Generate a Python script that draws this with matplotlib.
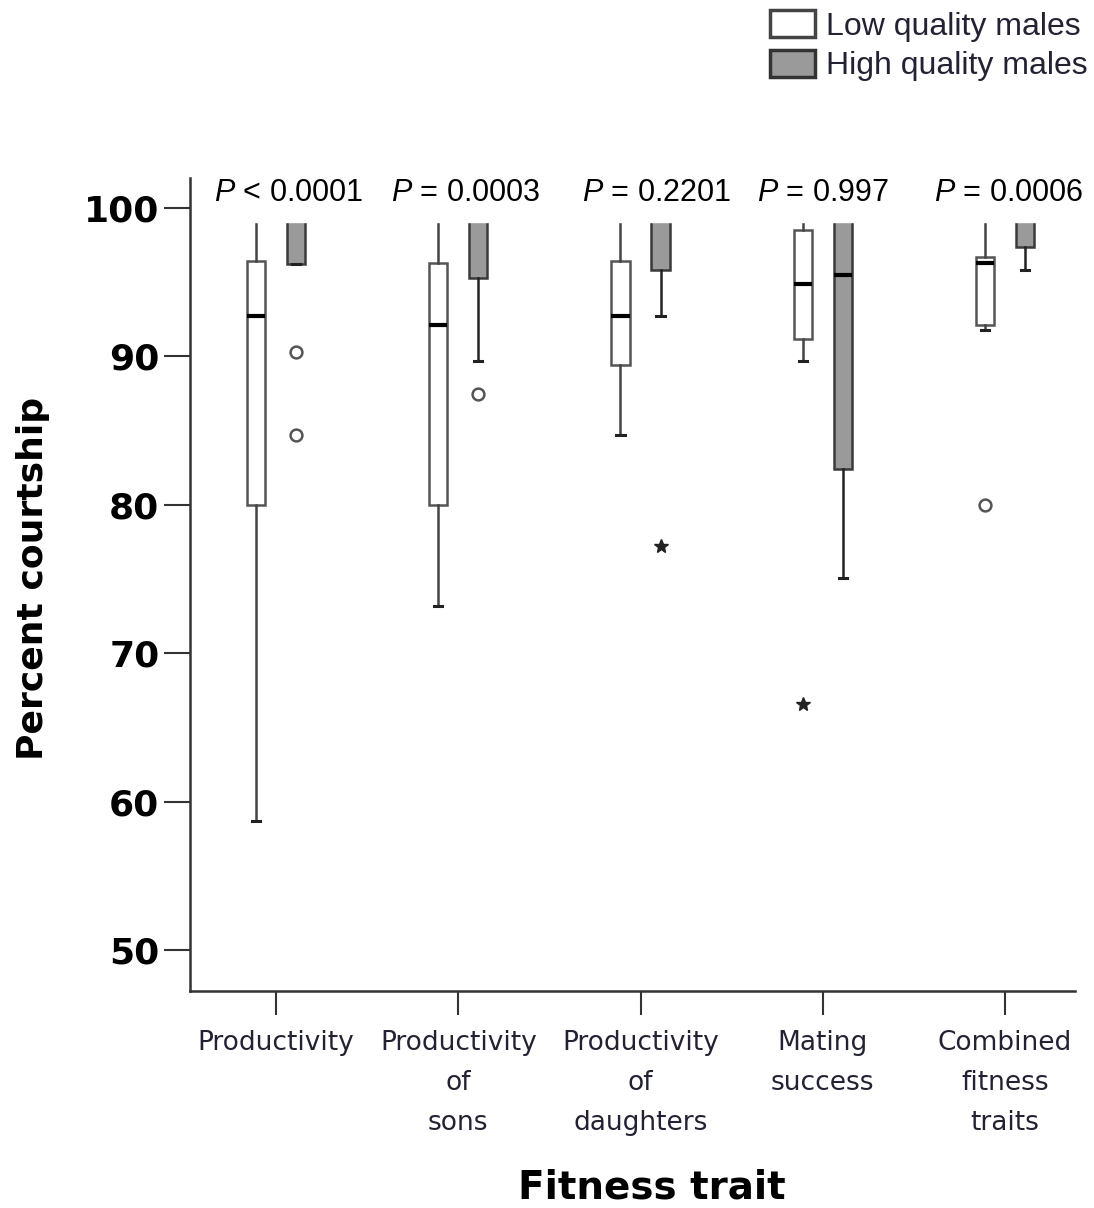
import matplotlib
matplotlib.use("Agg")
import matplotlib.pyplot as plt
from matplotlib.patches import Patch

plt.rcParams['mathtext.fontset'] = 'custom'
plt.rcParams['mathtext.it'] = 'Liberation Sans:italic'
plt.rcParams['mathtext.rm'] = 'Liberation Sans'

traits = ["Productivity", "Productivity\nof\nsons", "Productivity\nof\ndaughters",
          "Mating\nsuccess", "Combined\nfitness\ntraits"]
p_labels = ["$P$ < 0.0001", "$P$ = 0.0003", "$P$ = 0.2201", "$P$ = 0.997", "$P$ = 0.0006"]

# low quality males
low_whislo = [58.7, 73.2, 84.7, 89.7, 91.8]
low_q1 = [80.0, 80.0, 89.4, 91.2, 92.1]
low_med = [92.7, 92.1, 92.7, 94.9, 96.3]
low_q3 = [96.4, 96.3, 96.4, 98.5, 96.7]
low_whishi = [100, 100, 100, 100, 100]
low_outliers = [[], [], [], [], [80.0]]
low_extremes = [[], [], [], [66.6], []]

# high quality males
high_whislo = [96.2, 89.7, 92.7, 75.1, 95.8]
high_q1 = [96.2, 95.3, 95.8, 82.4, 97.4]
high_med = [100, 100, 100, 95.5, 100]
high_q3 = [100, 100, 100, 100, 100]
high_whishi = [100, 100, 100, 100, 100]
high_outliers = [[90.3, 84.7], [87.5], [], [], []]
high_extremes = [[], [], [77.2], [], []]

p_offsets = [0.07, 0.04, 0.09, 0.0, 0.02]


def make_stats(whislo, q1, med, q3, whishi):
    return [dict(whislo=a, q1=b, med=c, q3=d, whishi=e, fliers=[])
            for a, b, c, d, e in zip(whislo, q1, med, q3, whishi)]


fig = plt.figure(figsize=(10.94, 12.08), dpi=100)
ax = fig.add_axes([0.1737, 0.1796, 0.8089, 0.673])

pos = list(range(len(traits)))
off = 0.11

common = dict(widths=0.1, patch_artist=True, showfliers=False, capwidths=0.045,
              manage_ticks=False,
              medianprops=dict(color='black', linewidth=3),
              capprops=dict(color='#222222', linewidth=2.2))

ax.bxp(make_stats(low_whislo, low_q1, low_med, low_q3, low_whishi),
       positions=[p - off for p in pos],
       boxprops=dict(facecolor='white', edgecolor='#555555', linewidth=1.8),
       whiskerprops=dict(color='#444444', linewidth=1.8), **common)
ax.bxp(make_stats(high_whislo, high_q1, high_med, high_q3, high_whishi),
       positions=[p + off for p in pos],
       boxprops=dict(facecolor='#9a9a9a', edgecolor='#3a3a3a', linewidth=1.8),
       whiskerprops=dict(color='#222222', linewidth=1.8), **common)

# outliers (circles) and extreme values (stars)
for i in pos:
    for vals, x in ((low_outliers[i], i - off), (high_outliers[i], i + off)):
        if vals:
            ax.plot([x] * len(vals), vals, 'o', ms=8.5, mfc='white', mec='#555555', mew=1.8,
                    linestyle='none')
    for vals, x in ((low_extremes[i], i - off), (high_extremes[i], i + off)):
        if vals:
            ax.plot([x] * len(vals), vals, '*', ms=10, color='#222222', linestyle='none')

# white band holding the P values
ax.axhspan(99.06, 103, color='white', zorder=5)
for i, lab in enumerate(p_labels):
    ax.text(i + p_offsets[i], 100.47, lab, ha='center', va='baseline', fontsize=22,
            family='Liberation Sans', zorder=6)

ax.set_xlim(-0.473, 4.385)
ax.set_ylim(47.24, 102.02)
ax.set_yticks([50, 60, 70, 80, 90, 100])
ax.set_yticklabels(['50', '60', '70', '80', '90', '100'], fontsize=26, fontweight='bold')
ax.set_xticks(pos)
ax.set_xticklabels(traits, fontsize=19, linespacing=1.7, color='#222233')

for side in ['top', 'right']:
    ax.spines[side].set_visible(False)
for side in ['left', 'bottom']:
    ax.spines[side].set_color('#333333')
    ax.spines[side].set_linewidth(1.8)
    ax.spines[side].set_zorder(7)

ax.tick_params(axis='y', length=19, width=1.5, color='#333333', pad=3)
ax.tick_params(axis='x', length=17, width=1.5, color='#333333', pad=11)

fig.text(33 / 1094, 0.5215, "Percent courtship", rotation=90, ha='center', va='center',
         fontsize=26, fontweight='bold')
fig.text(652 / 1094, 0.008, "Fitness trait", ha='center', va='baseline',
         fontsize=28, fontweight='bold')

handles = [Patch(facecolor='white', edgecolor='#444444', linewidth=2.5),
           Patch(facecolor='#9a9a9a', edgecolor='#333333', linewidth=2.5)]
fig.legend(handles, ["Low quality males", "High quality males"], loc='upper left',
           bbox_to_anchor=(770 / 1094, 1 - 10 / 1208), frameon=False,
           prop=dict(family='Liberation Sans', size=23), labelcolor='#222233',
           handlelength=1.4, handleheight=0.94, handletextpad=0.35, labelspacing=0.25,
           borderpad=0, borderaxespad=0)

fig.savefig("out.png", dpi=100)
